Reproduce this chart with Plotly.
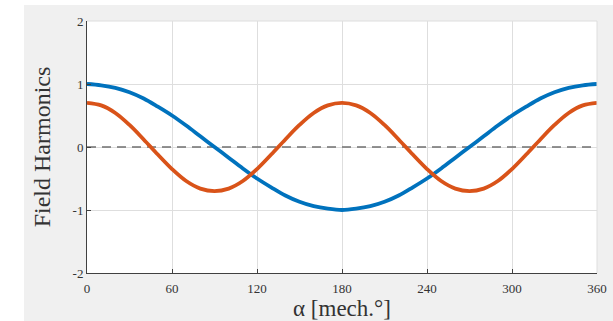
import plotly.graph_objects as go

# Mechanical angle samples (degrees)
alpha_deg = [0, 10, 20, 30, 40, 50, 60, 70, 80, 90, 100, 110, 120, 130, 140, 150, 160, 170, 180,
             190, 200, 210, 220, 230, 240, 250, 260, 270, 280, 290, 300, 310, 320, 330, 340, 350, 360]

# Fundamental field harmonic
fundamental = [1.00, 0.98, 0.94, 0.87, 0.77, 0.64, 0.50, 0.34, 0.17, 0.00, -0.17, -0.34, -0.50,
               -0.64, -0.77, -0.87, -0.94, -0.98, -1.00, -0.98, -0.94, -0.87, -0.77, -0.64, -0.50,
               -0.34, -0.17, 0.00, 0.17, 0.34, 0.50, 0.64, 0.77, 0.87, 0.94, 0.98, 1.00]

# Second field harmonic
second = [0.70, 0.66, 0.54, 0.35, 0.12, -0.12, -0.35, -0.54, -0.66, -0.70, -0.66, -0.54, -0.35,
          -0.12, 0.12, 0.35, 0.54, 0.66, 0.70, 0.66, 0.54, 0.35, 0.12, -0.12, -0.35, -0.54, -0.66,
          -0.70, -0.66, -0.54, -0.35, -0.12, 0.12, 0.35, 0.54, 0.66, 0.70]

# Zero reference line
zero_x = [0, 360]
zero_y = [0, 0]

x_ticks = [0, 60, 120, 180, 240, 300, 360]
y_ticks = [-2, -1, 0, 1, 2]

SERIF = "Liberation Serif, Times New Roman, serif"
BLUE = "#0072BD"
ORANGE = "#D95319"

fig = go.Figure()
fig.add_trace(go.Scatter(x=zero_x, y=zero_y, mode="lines",
                         line=dict(color="#707070", width=1.5, dash="9px,6px"),
                         hoverinfo="skip", showlegend=False))
fig.add_trace(go.Scatter(x=alpha_deg, y=fundamental, mode="lines",
                         line=dict(color=BLUE, width=3.8, shape="spline", smoothing=1.0),
                         showlegend=False))
fig.add_trace(go.Scatter(x=alpha_deg, y=second, mode="lines",
                         line=dict(color=ORANGE, width=3.8, shape="spline", smoothing=1.0),
                         showlegend=False))

fig.update_layout(
    width=613, height=321,
    margin=dict(l=87, r=16, t=21, b=48),
    paper_bgcolor="#f0f0f0",
    plot_bgcolor="white",
    font=dict(family=SERIF, color="#262626"),
    shapes=[
        # white strips framing the gray figure background
        dict(type="rect", xref="paper", yref="paper", x0=-0.2, x1=(24 - 87) / 510,
             y0=-0.3, y1=1.2, fillcolor="white", line_width=0, layer="below"),
        dict(type="rect", xref="paper", yref="paper", x0=-0.2, x1=1.2,
             y0=(273 - 5) / 252, y1=1.2, fillcolor="white", line_width=0, layer="below"),
    ],
)

fig.update_xaxes(
    range=[0, 360], tickvals=x_ticks, ticktext=[str(v) for v in x_ticks],
    showgrid=True, gridcolor="#dedede", gridwidth=1,
    showline=True, linecolor="#404040", linewidth=1,
    ticks="inside", ticklen=4, tickcolor="#404040",
    tickfont=dict(family=SERIF, size=13, color="#333333"),
    ticklabelstandoff=3, automargin=False,
    title=dict(text="α [mech.°]", font=dict(family=SERIF, size=23, color="#333333")),
    zeroline=False, fixedrange=True,
)
fig.update_yaxes(
    range=[-2, 2], tickvals=y_ticks, ticktext=[str(v) for v in y_ticks],
    showgrid=True, gridcolor="#dedede", gridwidth=1,
    showline=True, linecolor="#404040", linewidth=1,
    ticks="inside", ticklen=4, tickcolor="#404040",
    tickfont=dict(family=SERIF, size=13, color="#333333"),
    automargin=False,
    title=dict(text="Field Harmonics", font=dict(family=SERIF, size=24, color="#333333")),
    zeroline=False, fixedrange=True,
)

# light frame on the top and right edges of the axes box
fig.add_shape(type="line", xref="paper", yref="paper", x0=0, x1=1, y0=1, y1=1,
              line=dict(color="#dedede", width=1))
fig.add_shape(type="line", xref="paper", yref="paper", x0=1, x1=1, y0=0, y1=1,
              line=dict(color="#dedede", width=1))

fig.write_html("out.html", config={"displayModeBar": False})
